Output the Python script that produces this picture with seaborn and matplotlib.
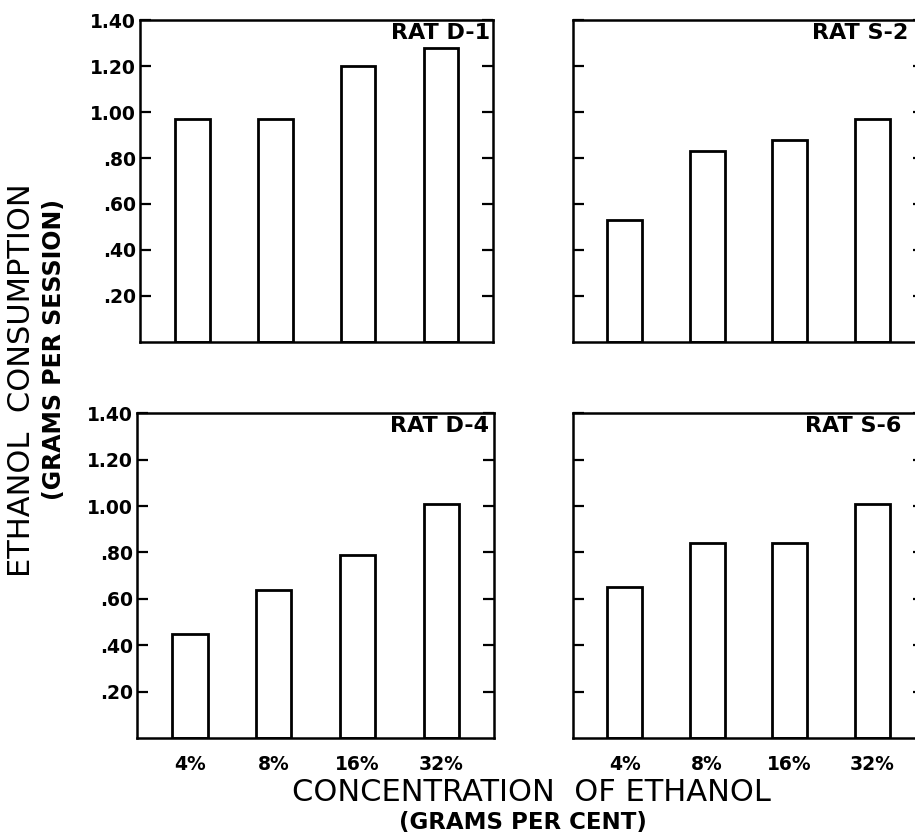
import matplotlib
matplotlib.use('Agg')
import matplotlib.pyplot as plt
import pandas as pd
import seaborn as sns

# Data
concentrations = ['4%', '8%', '16%', '32%']
rat_d1 = [0.97, 0.97, 1.20, 1.28]
rat_s2 = [0.53, 0.83, 0.88, 0.97]
rat_d4 = [0.45, 0.64, 0.79, 1.01]
rat_s6 = [0.65, 0.84, 0.84, 1.01]
rat_names = ['RAT D-1', 'RAT S-2', 'RAT D-4', 'RAT S-6']
y_ticks = [0.2, 0.4, 0.6, 0.8, 1.0, 1.2, 1.4]
y_tick_labels = ['.20', '.40', '.60', '.80', '1.00', '1.20', '1.40']

sns.set_style('white')
plt.rcParams['font.family'] = ['DejaVu Sans']
plt.rcParams['text.color'] = 'black'
plt.rcParams['xtick.color'] = 'black'
plt.rcParams['ytick.color'] = 'black'

fig = plt.figure(figsize=(9.15, 8.38), dpi=100)

# axes rectangles in figure fraction: [left, bottom, width, height]
panels = [
    (rat_d1, [0.153, 0.592, 0.386, 0.384], 0.99),
    (rat_s2, [0.626, 0.592, 0.384, 0.384], 0.955),
    (rat_d4, [0.150, 0.119, 0.390, 0.388], 0.985),
    (rat_s6, [0.626, 0.119, 0.384, 0.388], 0.935),
]

for i, (values, rect, lab_x) in enumerate(panels):
    ax = fig.add_axes(rect)
    df = pd.DataFrame({'conc': concentrations, 'value': values})
    sns.barplot(data=df, x='conc', y='value', ax=ax, color='white',
                saturation=1, edgecolor='black', linewidth=2, width=0.42)
    ax.set_xlim(-0.63, 3.63)
    ax.set_ylim(0, 1.40)
    ax.set_xlabel('')
    ax.set_ylabel('')
    for s in ax.spines.values():
        s.set_visible(True)
        s.set_linewidth(1.8)
        s.set_color('black')
    ax.set_yticks(y_ticks)
    ax.tick_params(axis='y', direction='in', length=8, width=1.6,
                   left=True, right=True, pad=3)
    ax.tick_params(axis='x', length=0, pad=12)
    if i % 2 == 0:
        ax.set_yticklabels(y_tick_labels, fontsize=13.5, fontweight='bold')
    else:
        ax.set_yticklabels([])
    if i >= 2:
        ax.set_xticks(range(len(concentrations)))
        ax.set_xticklabels(concentrations, fontsize=13.5, fontweight='bold')
    else:
        ax.set_xticklabels([])
    ax.text(lab_x, 0.99, rat_names[i], transform=ax.transAxes, ha='right',
            va='top', fontsize=16, fontweight='bold')

fig.text(0.024, 0.5465, 'ETHANOL  CONSUMPTION', rotation=90, ha='center',
         va='center', fontsize=22)
fig.text(0.059, 0.5835, '(GRAMS PER SESSION)', rotation=90, ha='center',
         va='center', fontsize=17, fontweight='bold')
fig.text(0.581, 0.0537, 'CONCENTRATION  OF ETHANOL', ha='center',
         va='center', fontsize=22)
fig.text(0.572, 0.019, '(GRAMS PER CENT)', ha='center', va='center',
         fontsize=16.5, fontweight='bold')

plt.savefig('out.png', dpi=100)
